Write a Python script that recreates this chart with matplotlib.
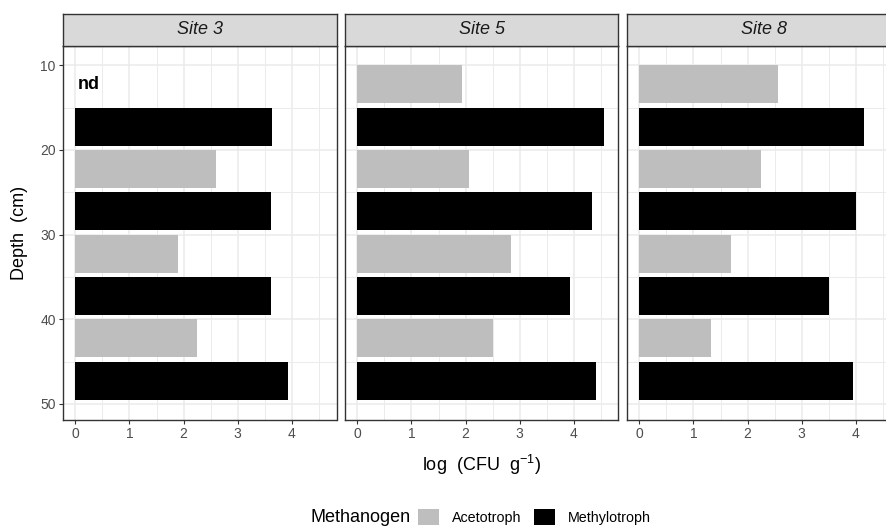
import numpy as np
import matplotlib
matplotlib.use("Agg")
import matplotlib.pyplot as plt
from matplotlib.patches import Patch

plt.rcParams['font.family'] = ['Liberation Sans', 'DejaVu Sans']
plt.rcParams['mathtext.fontset'] = 'custom'
plt.rcParams['mathtext.rm'] = 'Liberation Sans'
plt.rcParams['mathtext.it'] = 'Liberation Sans:italic'

# ---- data ----
sites = ['Site 3', 'Site 5', 'Site 8']
depth = [12.25, 17.25, 22.25, 27.25, 32.25, 37.25, 42.25, 47.25]
group = ['Acetotroph', 'Methylotroph', 'Acetotroph', 'Methylotroph',
         'Acetotroph', 'Methylotroph', 'Acetotroph', 'Methylotroph']
site3 = [np.nan, 3.64, 2.60, 3.62, 1.89, 3.62, 2.24, 3.93]
site5 = [1.94, 4.57, 2.06, 4.34, 2.84, 3.94, 2.50, 4.42]
site8 = [2.56, 4.15, 2.25, 4.00, 1.70, 3.50, 1.32, 3.95]
values = [site3, site5, site8]
groups = ['Acetotroph', 'Methylotroph']
group_colors = {'Acetotroph': '#BEBEBE', 'Methylotroph': '#000000'}
x_ticks = [0, 1, 2, 3, 4]
y_ticks = [10, 20, 30, 40, 50]

W, H = 887, 527
fig = plt.figure(figsize=(W / 100, H / 100), dpi=100)

def fx(px):
    return px / W

def fy(py):
    return 1 - py / H

panel_lefts = [63, 345, 627]
panel_w = 273.5
p_top, p_bot = 45.7, 420.0
s_top = 14.0

edge = '#333333'
gridc = '#EBEBEB'

for i, site in enumerate(sites):
    ax = fig.add_axes([fx(panel_lefts[i]), fy(p_bot), panel_w / W, (p_bot - p_top) / H])
    cols = [group_colors[g] for g in group]
    v = np.array(values[i], dtype=float)
    m = ~np.isnan(v)
    ax.barh(np.array(depth)[m], v[m], height=4.5,
            color=np.array(cols)[m], zorder=2)
    ax.set_xlim(-0.23, 4.83)
    ax.set_ylim(51.9, 7.7)
    ax.set_xticks(x_ticks)
    ax.set_xticks([0.5, 1.5, 2.5, 3.5, 4.5], minor=True)
    ax.set_yticks(y_ticks)
    ax.set_yticks([15, 25, 35, 45], minor=True)
    ax.grid(which='major', color=gridc, linewidth=1.1, zorder=0)
    ax.grid(which='minor', color=gridc, linewidth=0.7, zorder=0)
    ax.set_axisbelow(True)
    ax.tick_params(which='major', length=2.7, width=0.8, color=edge,
                   labelcolor='#4D4D4D', labelsize=10, pad=2.5)
    ax.tick_params(which='minor', length=0)
    if i > 0:
        ax.tick_params(axis='y', which='major', left=False, labelleft=False)
    for sp in ax.spines.values():
        sp.set_color(edge)
        sp.set_linewidth(1.0)
    if i == 0:
        ax.text(0.25, 12.25, 'nd', ha='center', va='center',
                fontsize=13, fontweight='bold', color='black', zorder=3)

    sax = fig.add_axes([fx(panel_lefts[i]), fy(p_top), panel_w / W, (p_top - s_top) / H])
    sax.set_facecolor('#D9D9D9')
    sax.set_xticks([])
    sax.set_yticks([])
    for sp in sax.spines.values():
        sp.set_color(edge)
        sp.set_linewidth(1.0)
    sax.text(0.5, 0.5, site, transform=sax.transAxes, ha='center', va='center',
             fontsize=13, style='italic', color='#1A1A1A')

fig.text(fx(20), fy((p_top + p_bot) / 2), 'Depth  (cm)', rotation=90,
         ha='center', va='center', fontsize=13, color='black')
fig.text(fx(481), fy(465), r'log  (CFU  g$^{-1}$)', ha='center', va='center',
         fontsize=13, color='black')

fig.text(fx(311), fy(517), 'Methanogen', ha='left', va='center',
         fontsize=13, color='black')
handles = [Patch(facecolor=group_colors[g], edgecolor='none', label=g) for g in groups]
fig.legend(handles=handles, loc='center left', bbox_to_anchor=(fx(418), fy(517)),
           ncol=2, frameon=False, fontsize=10.3, handlelength=1.45, handleheight=1.45,
           handletextpad=0.9, columnspacing=0.9, borderpad=0, borderaxespad=0)

fig.savefig('out.png', dpi=100)
